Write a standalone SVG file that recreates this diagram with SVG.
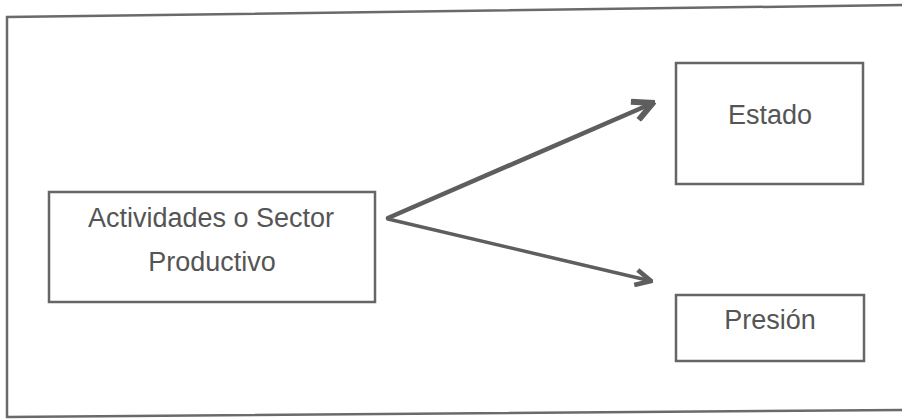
<svg xmlns="http://www.w3.org/2000/svg" width="902" height="420" viewBox="0 0 902 420">
<style>
.frame{fill:none;stroke:#6a6a6a;stroke-width:2.5}
.box{fill:#ffffff;stroke:#666666;stroke-width:2.5}
.lbl{font-family:"Liberation Sans",Arial,sans-serif;font-size:27px;fill:#555555;text-anchor:middle}
.conn{fill:none;stroke:#5e5e5e;stroke-linecap:round}
</style>
<defs>
<marker id="ah2" viewBox="0 0 10 10" refX="9" refY="5" markerWidth="5.5" markerHeight="5.5" orient="auto" markerUnits="strokeWidth">
<path d="M1,1 L9,5 L1,9" fill="none" stroke="#5e5e5e" stroke-width="2.4"/>
</marker>
</defs>
<polyline class="frame" points="904,5 7,17 7,417 904,410"/>
<g id="connectors">
<line class="conn" x1="388" y1="218" x2="653" y2="103" stroke-width="4.5" marker-end="url(#ah2)"/>
<line class="conn" x1="388" y1="219" x2="651" y2="281" stroke-width="3.5" marker-end="url(#ah2)"/>
</g>
<g id="actividades">
<rect class="box" x="49" y="192" width="326" height="110"/>
<text class="lbl" x="211" y="227">Actividades o Sector</text>
<text class="lbl" x="212" y="271">Productivo</text>
</g>
<g id="estado">
<rect class="box" x="676" y="63" width="187" height="121"/>
<text class="lbl" x="770" y="124">Estado</text>
</g>
<g id="presion">
<rect class="box" x="676" y="295" width="188" height="66"/>
<text class="lbl" x="770" y="329">Presión</text>
</g>
</svg>
